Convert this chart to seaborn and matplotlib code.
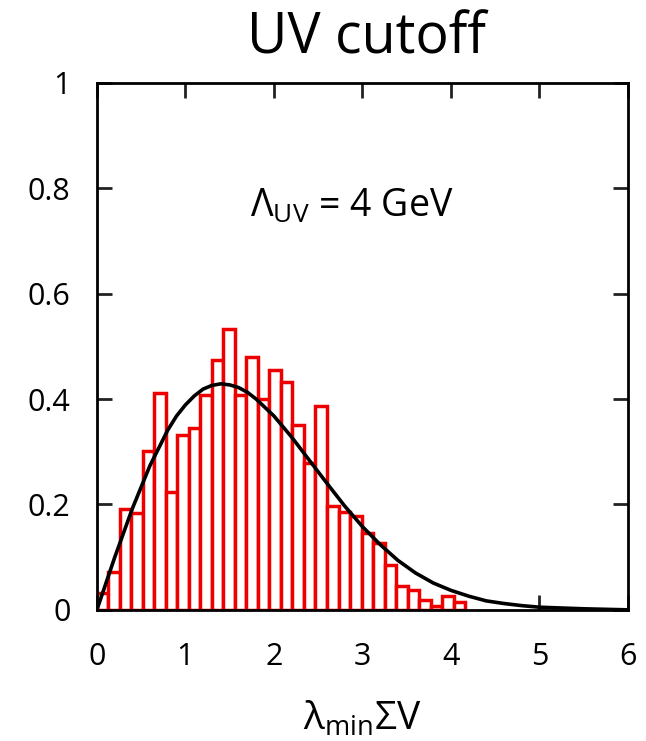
import pandas as pd
import matplotlib
matplotlib.use("Agg")
import matplotlib.pyplot as plt
import seaborn as sns

# histogram of the lowest eigenvalue (bin width 0.13, starting at 0)
bin_width = 0.13
heights = [0.032, 0.071, 0.191, 0.183, 0.302, 0.412, 0.224, 0.332,
           0.345, 0.408, 0.474, 0.533, 0.408, 0.479, 0.400, 0.455,
           0.433, 0.350, 0.279, 0.386, 0.198, 0.186, 0.178, 0.145,
           0.127, 0.085, 0.045, 0.038, 0.018, 0.008, 0.027, 0.014]

# RMT curve
curve_x = [0.0, 0.2, 0.4, 0.6, 0.8, 0.9, 1.0, 1.1, 1.2, 1.3, 1.4, 1.5,
           1.6, 1.7, 1.8, 2.0, 2.2, 2.4, 2.6, 2.8, 3.0, 3.2, 3.4, 3.6,
           3.8, 4.0, 4.2, 4.4, 4.6, 4.8, 5.0, 5.5, 6.0]
curve_y = [0.0, 0.099, 0.192, 0.274, 0.341, 0.368, 0.389, 0.406, 0.419,
           0.426, 0.429, 0.427, 0.422, 0.413, 0.400, 0.368, 0.328, 0.284,
           0.240, 0.197, 0.158, 0.124, 0.094, 0.070, 0.051, 0.037, 0.026,
           0.017, 0.012, 0.008, 0.005, 0.002, 0.0]

xticks = [0, 1, 2, 3, 4, 5, 6]
yticks = [0, 0.2, 0.4, 0.6, 0.8, 1.0]
ytick_labels = ['0', '0.2', '0.4', '0.6', '0.8', '1']

sns.set_style('ticks')
plt.rcParams['font.family'] = ['Open Sans', 'DejaVu Sans']
plt.rcParams['text.color'] = 'black'
plt.rcParams['xtick.color'] = 'black'
plt.rcParams['ytick.color'] = 'black'
plt.rcParams['mathtext.fontset'] = 'custom'
plt.rcParams['mathtext.rm'] = 'Open Sans'
plt.rcParams['mathtext.it'] = 'Open Sans:italic'
plt.rcParams['mathtext.sf'] = 'Open Sans'

fig = plt.figure(figsize=(6.46, 7.41), dpi=100)
ax = fig.add_axes([0.150, 0.177, 0.822, 0.711])

edges = [i * bin_width for i in range(len(heights) + 1)]
hist = pd.DataFrame({
    'x': [(edges[i] + edges[i + 1]) / 2 for i in range(len(heights))],
    'h': heights,
})
sns.histplot(data=hist, x='x', weights='h', bins=edges, stat='count',
             element='bars', fill=True, facecolor='white',
             edgecolor='#ee0000', linewidth=2.5, alpha=1, ax=ax, zorder=2)
sns.lineplot(x=curve_x, y=curve_y, color='black', linewidth=2.6, ax=ax,
             zorder=3)

ax.set_xlim(0, 6)
ax.set_ylim(0, 1)
ax.set_xticks(xticks)
ax.set_xticklabels([str(t) for t in xticks])
ax.set_yticks(yticks)
ax.set_yticklabels(ytick_labels)
ax.tick_params(direction='in', length=11, width=2, top=True, right=True,
               labelsize=22, color='#222222', labelcolor='black')
ax.tick_params(axis='x', pad=23)
ax.tick_params(axis='y', pad=19)
for sp in ax.spines.values():
    sp.set_linewidth(2)
    sp.set_color('black')

ax.set_ylabel('')
ax.set_xlabel(r'$\mathrm{λ_{min}ΣV}$', fontsize=28, labelpad=20,
              color='black')
ax.text(2.88, 0.765, r'$\mathrm{Λ_{UV}}$ = 4 GeV', fontsize=27,
        ha='center', va='center', color='black')
fig.text(0.567, 0.947, 'UV cutoff', fontsize=40, ha='center', va='center',
         color='black')

fig.savefig('out.png', dpi=100)
